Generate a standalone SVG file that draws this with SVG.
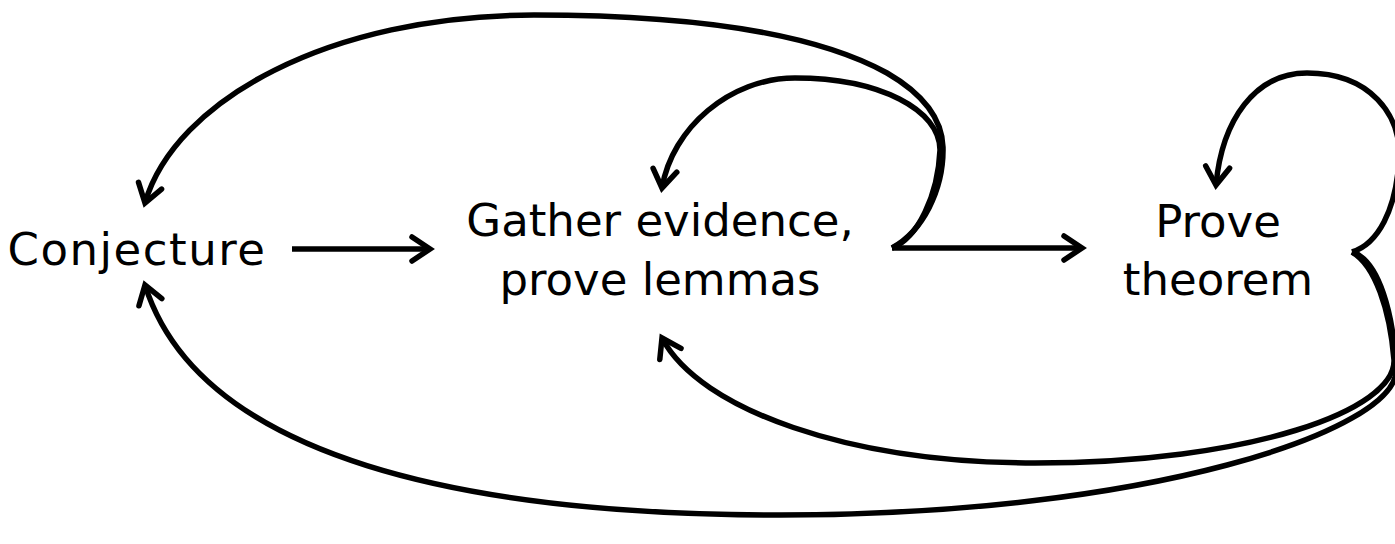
<svg xmlns="http://www.w3.org/2000/svg" width="1395" height="544" viewBox="0 0 1395 544">
<style>
.lbl{font-family:"DejaVu Sans","Liberation Sans",sans-serif;font-size:45px;fill:#000;text-anchor:middle}
.edge{fill:none;stroke:#000;stroke-width:5.5;stroke-linecap:butt}
.arr{marker-end:url(#ah)}
</style>
<defs>
<marker id="ah" markerUnits="userSpaceOnUse" markerWidth="50" markerHeight="50" viewBox="-25 -25 50 50" refX="0" refY="0" orient="auto" overflow="visible">
<path d="M-18,-12 L0,0 L-18,12" fill="none" stroke="#000" stroke-width="5.5" stroke-linecap="round" stroke-linejoin="miter"/>
</marker>
</defs>
<rect width="1395" height="544" fill="#fff"/>
<g id="conjecture"><text class="lbl" x="137" y="265" letter-spacing="1.5">Conjecture</text></g>
<g id="gather"><text class="lbl" x="660" y="236">Gather evidence,</text><text class="lbl" x="660" y="295">prove lemmas</text></g>
<g id="prove"><text class="lbl" x="1218" y="237">Prove</text><text class="lbl" x="1218" y="295">theorem</text></g>
<g id="connectors">
<path class="edge arr" d="M292,249 L430,249"/>
<path class="edge arr" d="M892,248 L1082,248"/>
<path class="edge arr" d="M892,248 C922,232 944,190 943,147 C942,120 925,95 887,73 C800,25 650,15 534,15 C330,15 175,100 145,203"/>
<path class="edge arr" d="M892,248 C918,238 938,195 940,150 C940,110 880,78 795,78 C730,78 672,128 662,188"/>
<path class="edge arr" d="M1352,252 C1378,244 1396,210 1399,160 C1402,115 1370,73 1307,73 C1255,73 1222,120 1216,185"/>
<path class="edge arr" d="M1352,252 C1375,265 1390,310 1394,360 C1396,410 1250,463 1035,463 C850,463 700,410 662,338"/>
<path class="edge arr" d="M1352,252 C1379,260 1394,315 1396,370 C1397,430 1150,515 780,515 C470,515 200,460 145,285"/>
</g>
</svg>
